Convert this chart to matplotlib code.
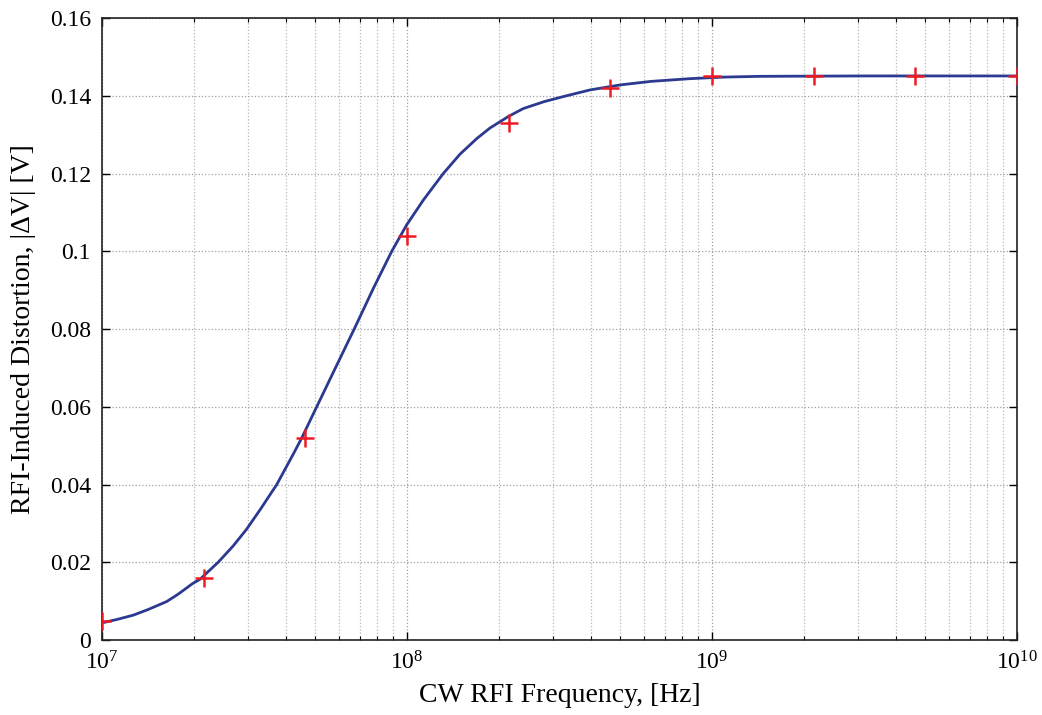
import matplotlib
matplotlib.use("Agg")
import matplotlib.pyplot as plt
from matplotlib.ticker import FuncFormatter, LogLocator

plt.rcParams['font.family'] = ['Liberation Serif', 'DejaVu Serif']
plt.rcParams['mathtext.fontset'] = 'custom'
plt.rcParams['mathtext.rm'] = 'Liberation Serif'

# Smooth model curve
curve_freq = [1.0e7, 1.122e7, 1.267e7, 1.413e7, 1.63e7, 1.778e7, 1.98e7, 2.094e7,
              2.404e7, 2.692e7, 2.979e7, 3.311e7, 3.741e7,
              4.236e7, 4.519e7, 5.058e7, 5.728e7, 6.761e7, 7.762e7, 8.913e7,
              9.977e7, 1.132e8, 1.315e8, 1.493e8, 1.694e8, 1.871e8, 2.153e8,
              2.404e8, 2.818e8, 3.334e8, 3.981e8, 5.012e8, 6.310e8, 8.472e8,
              1.089e9, 1.435e9, 3.162e9, 1.0e10]
curve_val = [0.0044, 0.0053, 0.0064, 0.0078, 0.0099, 0.0118, 0.0145, 0.0156,
             0.0200, 0.0242, 0.0285, 0.0337, 0.0400,
             0.0478, 0.0520, 0.0600, 0.0688, 0.0805, 0.0905, 0.1000,
             0.1068, 0.1132, 0.1200, 0.1250, 0.1290, 0.1317, 0.1347,
             0.1367, 0.1385, 0.1400, 0.1415, 0.1428, 0.1437, 0.1444,
             0.1448, 0.1450, 0.1451, 0.1451]

# Measured points (red +)
meas_freq = [1.0e7, 2.154e7, 4.642e7, 1.0e8, 2.154e8, 4.642e8, 1.0e9, 2.154e9, 4.642e9, 1.0e10]
meas_val = [0.005, 0.016, 0.052, 0.104, 0.133, 0.142, 0.145, 0.145, 0.145, 0.145]

y_ticks = [0, 0.02, 0.04, 0.06, 0.08, 0.10, 0.12, 0.14, 0.16]

fig = plt.figure(figsize=(10.42, 7.15), dpi=100)
ax = fig.add_axes([0.0979, 0.1049, 0.8781, 0.8699])

ax.plot(curve_freq, curve_val, color='#2b3990', lw=2.0, zorder=3,
        solid_joinstyle='round')
ax.plot(meas_freq, meas_val, linestyle='none', marker='+', color='#ed1c24',
        markersize=13, markeredgewidth=1.8, zorder=4, clip_on=True)

ax.set_xscale('log')
ax.set_xlim(1e7, 1e10)
ax.set_ylim(0, 0.16)
ax.set_yticks(y_ticks)
ax.yaxis.set_major_formatter(FuncFormatter(lambda v, p: '%g' % round(v, 4)))
ax.xaxis.set_major_locator(LogLocator(base=10, numticks=10))
ax.xaxis.set_minor_locator(LogLocator(base=10, subs=range(2, 10), numticks=100))

ax.grid(True, which='major', axis='both', linestyle=':', color='#a0a0a0', lw=0.9)
ax.grid(True, which='minor', axis='x', linestyle=':', color='#b8b8b8', lw=0.9)
ax.set_axisbelow(True)

ax.tick_params(which='both', direction='in', top=True, right=True, labelsize=17, pad=8)
ax.tick_params(which='major', length=6, width=1.0)
ax.tick_params(which='minor', length=3, width=0.8)
for s in ax.spines.values():
    s.set_linewidth(1.2)
    s.set_color('#222222')

ax.set_xlabel('CW RFI Frequency, [Hz]', fontsize=20, labelpad=6)
ax.set_ylabel('RFI-Induced Distortion, |\u0394V| [V]', fontsize=20, labelpad=10)

fig.savefig('out.png', dpi=100)
